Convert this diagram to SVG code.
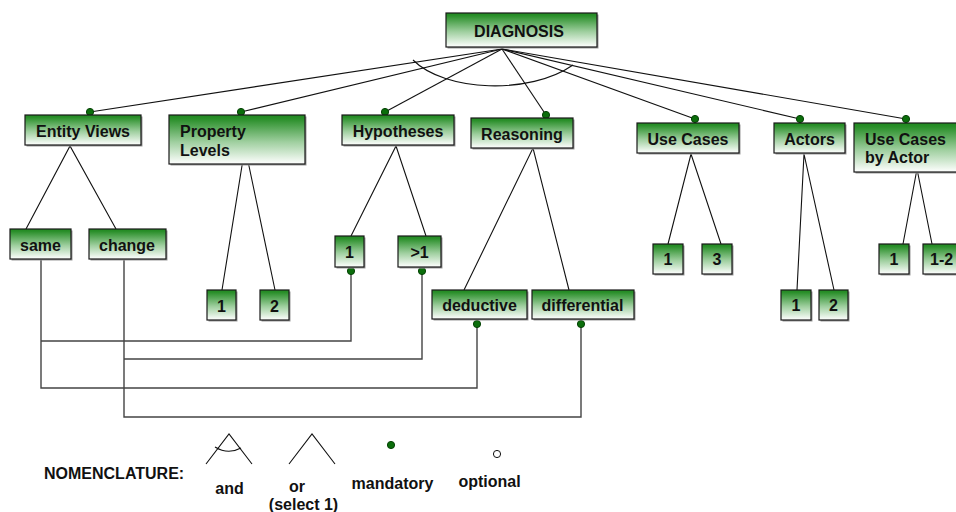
<svg xmlns="http://www.w3.org/2000/svg" width="956" height="512" viewBox="0 0 956 512">
  <defs>
    <linearGradient id="boxFill" x1="0" y1="0" x2="0" y2="1">
      <stop offset="0" stop-color="#1f881f"/>
      <stop offset="0.08" stop-color="#2a8f2a"/>
      <stop offset="0.55" stop-color="#9fcf9f"/>
      <stop offset="1" stop-color="#ffffff"/>
    </linearGradient>
  </defs>
  <style>
    .shadow { fill: #9a9a9a; }
    .box { fill: url(#boxFill); stroke: #1a1a1a; stroke-width: 1.2; }
    .lbl { font-family: "Liberation Sans", Arial, sans-serif; font-weight: bold; font-size: 16px; fill: #111; }
    .mid { text-anchor: middle; }
    .link { fill: none; stroke: #111; stroke-width: 1.1; }
    .wire { fill: none; stroke: #444; stroke-width: 1.4; }
    .dot { fill: #0b6e0b; stroke: #054205; stroke-width: 1; }
    .open { fill: #fff; stroke: #111; stroke-width: 1; }
  </style>

  <!-- connectors -->
  <g id="connectors">
    <!-- root to features -->
    <line class="link" x1="502" y1="49" x2="90" y2="112"/>
    <line class="link" x1="502" y1="49" x2="241" y2="112" stroke-width="1.9"/>
    <line class="link" x1="502" y1="49" x2="385" y2="112"/>
    <line class="link" x1="502" y1="49" x2="546" y2="115"/>
    <line class="link" x1="502" y1="49" x2="695" y2="119"/>
    <line class="link" x1="502" y1="49" x2="800" y2="119"/>
    <line class="link" x1="502" y1="49" x2="906" y2="119"/>
    <!-- and-arc -->
    <path class="link" d="M413 60 C445 92 530 95 573 65"/>
    <!-- sub-features -->
    <polyline class="link" points="26,229 70,146 116,229"/>
    <polyline class="link" points="222,290 245,147 275,290"/>
    <polyline class="link" points="351,236 396,146 426,236"/>
    <polyline class="link" points="464,290 533,148 569,290"/>
    <polyline class="link" points="668,244 691,154 721,244"/>
    <polyline class="link" points="797,290 804,154 834,290"/>
    <polyline class="link" points="903,244 917,169 932,244"/>
    <!-- cross constraints -->
    <polyline class="wire" points="41,259 41,388 477,388 477,324"/>
    <polyline class="wire" points="41,341 351,341 351,271"/>
    <polyline class="wire" points="124,259 124,417 581,417 581,324"/>
    <polyline class="wire" points="124,359 422,359 422,271"/>
    <!-- mandatory markers -->
    <circle class="dot" cx="90" cy="112" r="3.6"/>
    <circle class="dot" cx="241" cy="112" r="3.6"/>
    <circle class="dot" cx="385" cy="112" r="3.6"/>
    <circle class="dot" cx="546" cy="115" r="3.6"/>
    <circle class="dot" cx="695" cy="119" r="3.6"/>
    <circle class="dot" cx="800" cy="119" r="3.6"/>
    <circle class="dot" cx="906" cy="119" r="3.6"/>
    <circle class="dot" cx="351" cy="271" r="3.6"/>
    <circle class="dot" cx="422" cy="271" r="3.6"/>
    <circle class="dot" cx="477" cy="324" r="3.6"/>
    <circle class="dot" cx="581" cy="324" r="3.6"/>
  </g>

  <!-- root -->
  <g id="diagnosis">
    <rect class="shadow" x="447.5" y="14.5" width="151" height="34"/>
    <rect class="box" x="446" y="13" width="151" height="34"/>
    <text class="lbl mid" x="519" y="37" font-size="18.5">DIAGNOSIS</text>
  </g>

  <!-- features -->
  <g id="entity-views">
    <rect class="shadow" x="26.5" y="116.5" width="116" height="30"/>
    <rect class="box" x="25" y="115" width="116" height="30"/>
    <text class="lbl mid" x="83" y="137">Entity Views</text>
  </g>
  <g id="property-levels">
    <rect class="shadow" x="170.5" y="116.5" width="136" height="49"/>
    <rect class="box" x="169" y="115" width="136" height="49"/>
    <text class="lbl" x="180" y="137">Property</text>
    <text class="lbl" x="180" y="156">Levels</text>
  </g>
  <g id="hypotheses">
    <rect class="shadow" x="343.5" y="116.5" width="112" height="30"/>
    <rect class="box" x="342" y="115" width="112" height="30"/>
    <text class="lbl mid" x="398" y="137">Hypotheses</text>
  </g>
  <g id="reasoning">
    <rect class="shadow" x="472.5" y="119.5" width="102" height="30"/>
    <rect class="box" x="471" y="118" width="102" height="30"/>
    <text class="lbl mid" x="522" y="140">Reasoning</text>
  </g>
  <g id="use-cases">
    <rect class="shadow" x="638.5" y="124.5" width="102" height="30"/>
    <rect class="box" x="637" y="123" width="102" height="30"/>
    <text class="lbl mid" x="688" y="145">Use Cases</text>
  </g>
  <g id="actors">
    <rect class="shadow" x="775.5" y="124.5" width="71" height="30"/>
    <rect class="box" x="774" y="123" width="71" height="30"/>
    <text class="lbl mid" x="809.5" y="145">Actors</text>
  </g>
  <g id="use-cases-by-actor">
    <rect class="shadow" x="855.5" y="124.5" width="110" height="49"/>
    <rect class="box" x="854" y="123" width="110" height="49"/>
    <text class="lbl" x="865" y="145">Use Cases</text>
    <text class="lbl" x="865" y="163">by Actor</text>
  </g>

  <!-- sub-features -->
  <g id="ev-same">
    <rect class="shadow" x="11.5" y="230.5" width="61" height="30"/>
    <rect class="box" x="10" y="229" width="61" height="30"/>
    <text class="lbl mid" x="40.5" y="251">same</text>
  </g>
  <g id="ev-change">
    <rect class="shadow" x="90.5" y="230.5" width="77" height="30"/>
    <rect class="box" x="89" y="229" width="77" height="30"/>
    <text class="lbl mid" x="127" y="251">change</text>
  </g>
  <g id="pl-1">
    <rect class="shadow" x="208.5" y="291.5" width="29" height="30"/>
    <rect class="box" x="207" y="290" width="29" height="30"/>
    <text class="lbl mid" x="221.5" y="312">1</text>
  </g>
  <g id="pl-2">
    <rect class="shadow" x="261.5" y="291.5" width="29" height="30"/>
    <rect class="box" x="260" y="290" width="29" height="30"/>
    <text class="lbl mid" x="274.5" y="312">2</text>
  </g>
  <g id="hyp-1">
    <rect class="shadow" x="336.5" y="237.5" width="29" height="31"/>
    <rect class="box" x="335" y="236" width="29" height="31"/>
    <text class="lbl mid" x="349.5" y="258">1</text>
  </g>
  <g id="hyp-many">
    <rect class="shadow" x="399.5" y="237.5" width="43" height="31"/>
    <rect class="box" x="398" y="236" width="43" height="31"/>
    <text class="lbl mid" x="419.5" y="258">&gt;1</text>
  </g>
  <g id="deductive">
    <rect class="shadow" x="433.5" y="291.5" width="95" height="29"/>
    <rect class="box" x="432" y="290" width="95" height="29"/>
    <text class="lbl mid" x="479.5" y="311">deductive</text>
  </g>
  <g id="differential">
    <rect class="shadow" x="533.5" y="291.5" width="102" height="29"/>
    <rect class="box" x="532" y="290" width="102" height="29"/>
    <text class="lbl mid" x="582.5" y="311">differential</text>
  </g>
  <g id="uc-1">
    <rect class="shadow" x="654.5" y="245.5" width="30" height="30"/>
    <rect class="box" x="653" y="244" width="30" height="30"/>
    <text class="lbl mid" x="668" y="265">1</text>
  </g>
  <g id="uc-3">
    <rect class="shadow" x="703.5" y="245.5" width="30" height="30"/>
    <rect class="box" x="702" y="244" width="30" height="30"/>
    <text class="lbl mid" x="717" y="265">3</text>
  </g>
  <g id="act-1">
    <rect class="shadow" x="782.5" y="291.5" width="30" height="30"/>
    <rect class="box" x="781" y="290" width="30" height="30"/>
    <text class="lbl mid" x="796" y="311">1</text>
  </g>
  <g id="act-2">
    <rect class="shadow" x="820.5" y="291.5" width="29" height="30"/>
    <rect class="box" x="819" y="290" width="29" height="30"/>
    <text class="lbl mid" x="833.5" y="311">2</text>
  </g>
  <g id="ucba-1">
    <rect class="shadow" x="880.5" y="245.5" width="30" height="30"/>
    <rect class="box" x="879" y="244" width="30" height="30"/>
    <text class="lbl mid" x="894" y="265">1</text>
  </g>
  <g id="ucba-1-2">
    <rect class="shadow" x="924.5" y="245.5" width="40" height="30"/>
    <rect class="box" x="923" y="244" width="40" height="30"/>
    <text class="lbl" x="930" y="265">1-2</text>
  </g>

  <!-- legend -->
  <g id="nomenclature">
    <text class="lbl" x="44" y="479" font-size="15.6">NOMENCLATURE:</text>
    <polyline class="link" points="206,464 229,434 252,464"/>
    <path class="link" d="M215 447 Q228 455 241 448"/>
    <text class="lbl mid" x="229.5" y="494" font-size="15.5">and</text>
    <polyline class="link" points="289,464 312,434 335,464"/>
    <text class="lbl mid" x="297" y="492" font-size="15.5">or</text>
    <text class="lbl mid" x="303.5" y="510" font-size="15.5">(select 1)</text>
    <circle class="dot" cx="391" cy="445" r="3.6"/>
    <text class="lbl mid" x="392.5" y="489" font-size="15.5">mandatory</text>
    <circle class="open" cx="497" cy="454" r="3.6"/>
    <text class="lbl mid" x="489.5" y="487" font-size="15.5">optional</text>
  </g>
</svg>
